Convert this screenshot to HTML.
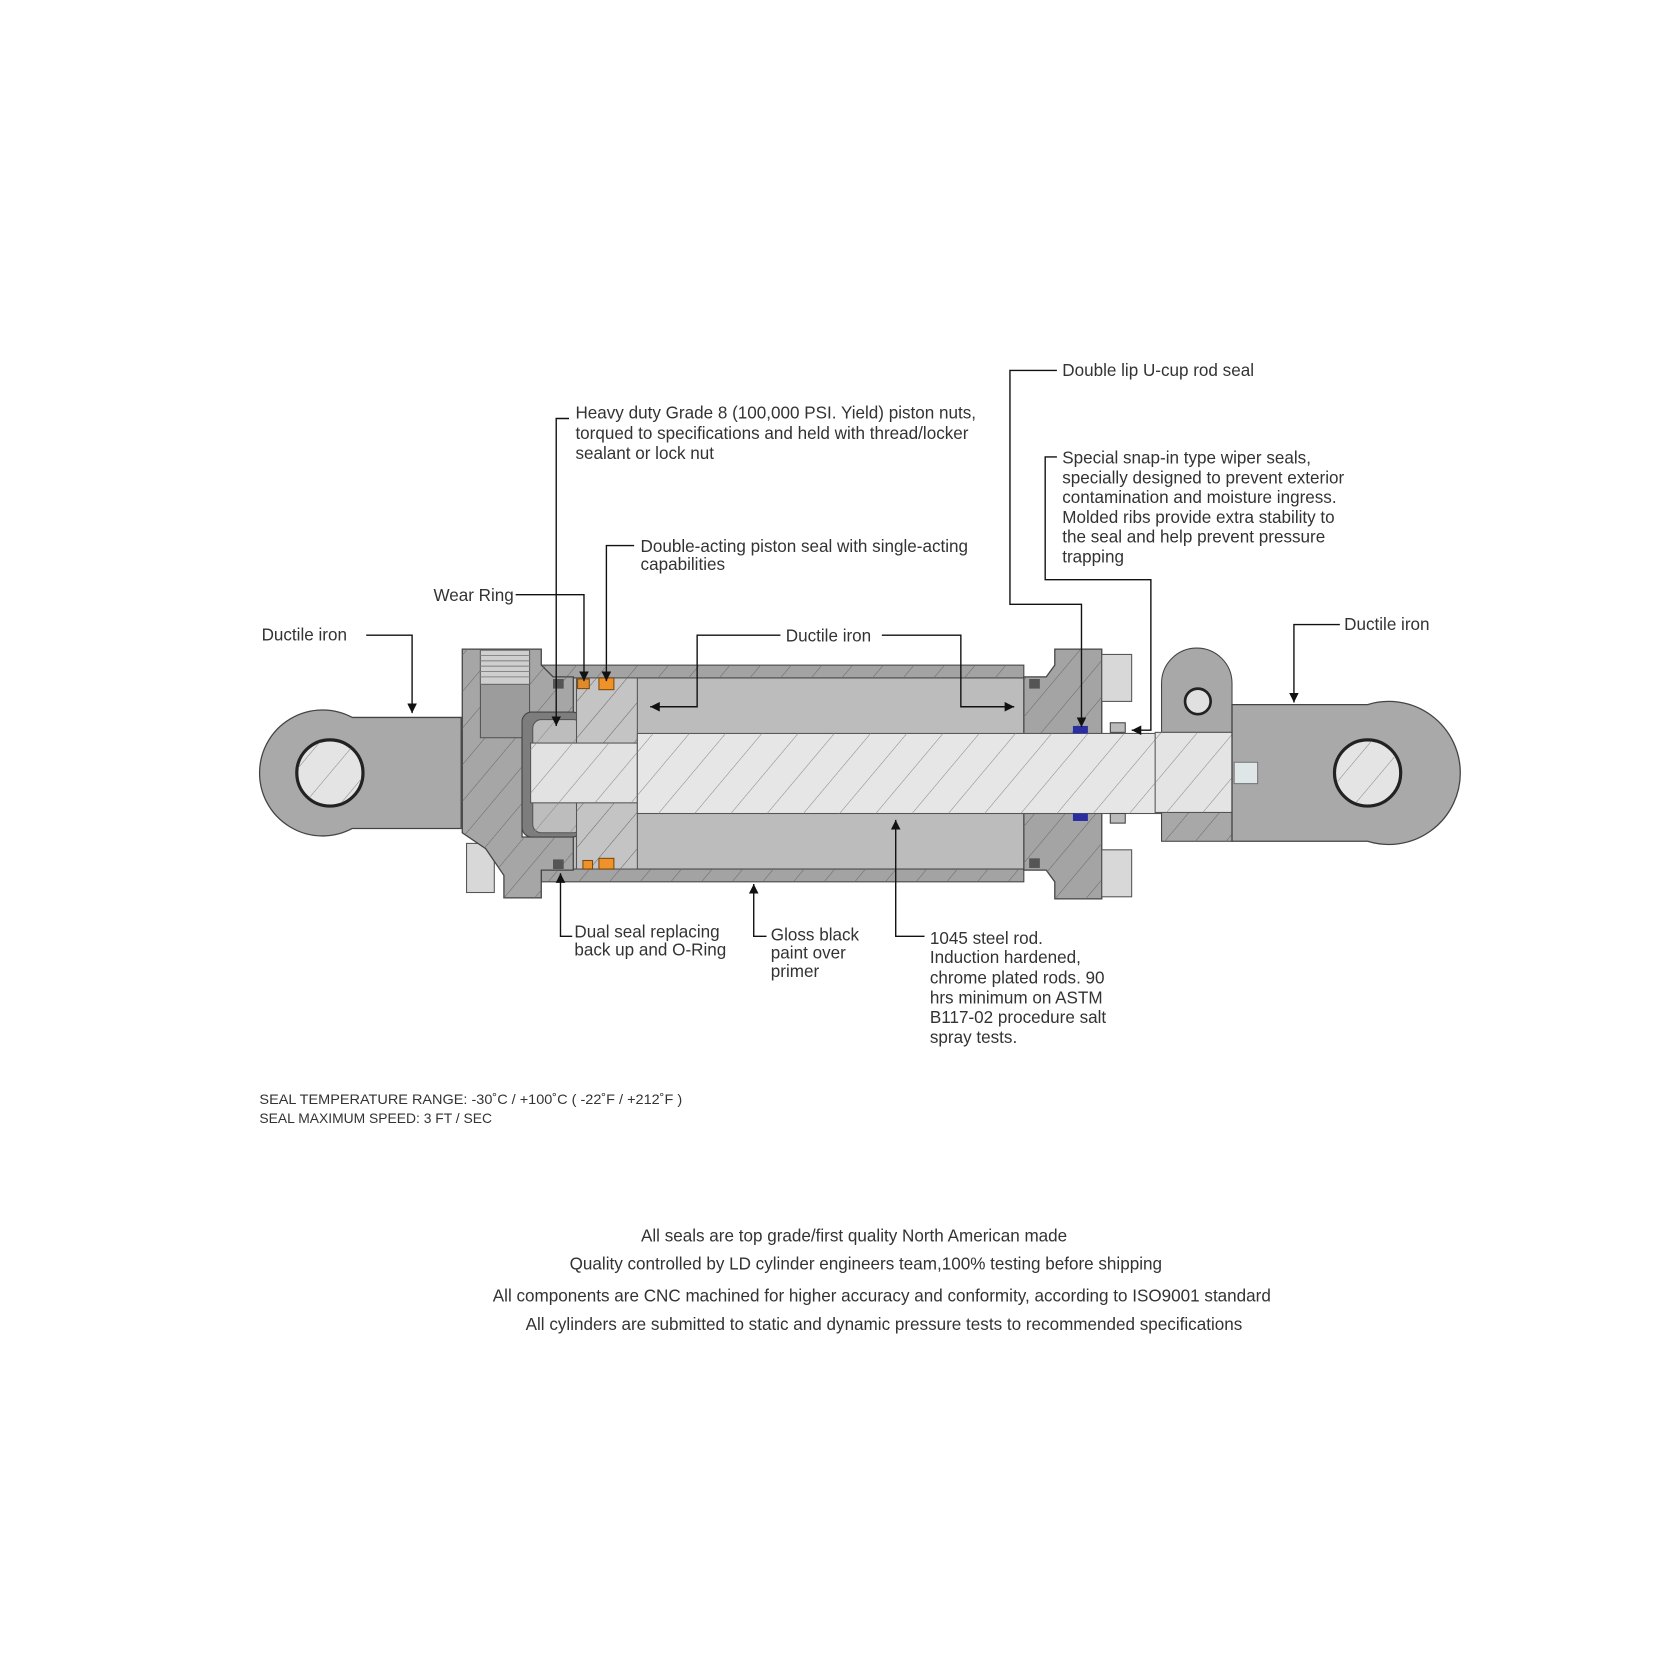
<!DOCTYPE html>
<html><head><meta charset="utf-8"><style>
html,body{margin:0;padding:0;background:#fff;}
svg{display:block;}
text{font-family:"Liberation Sans",sans-serif;fill:#333;}
</style></head><body>
<svg width="1674" height="1674" viewBox="0 0 1568 1568" xmlns="http://www.w3.org/2000/svg">
<defs>
<pattern id="h1" width="22" height="22" patternUnits="userSpaceOnUse" patternTransform="rotate(40)">
<rect width="22" height="22" fill="none"/><line x1="0" y1="0" x2="0" y2="22" stroke="#6a6a6a" stroke-width="1"/></pattern>
<pattern id="h2" width="26" height="26" patternUnits="userSpaceOnUse" patternTransform="rotate(40)">
<line x1="0" y1="0" x2="0" y2="26" stroke="#8a8a8a" stroke-width="1"/></pattern>
<marker id="ar" viewBox="0 0 10 10" refX="10" refY="5" markerWidth="9" markerHeight="9" orient="auto-start-reverse" markerUnits="userSpaceOnUse">
<path d="M0,0 L10,5 L0,10 z" fill="#111"/></marker>
</defs>
<rect width="1568" height="1568" fill="#fff"/>

<!-- Left eye -->
<path d="M330,672 L432,672 L432,776 L330,776 A59,59 0 1 1 330,672 z" fill="#a9a9a9" stroke="#444" stroke-width="1.2"/>
<circle cx="309" cy="724" r="31" fill="#e4e4e4" stroke="#222" stroke-width="3"/>
<circle cx="309" cy="724" r="30" fill="url(#h2)"/>

<!-- barrel interior -->
<rect x="507" y="634" width="452" height="181" fill="#bcbcbc"/>
<!-- barrel walls -->
<rect x="507" y="623" width="452" height="12" fill="#a3a3a3" stroke="#444"/>
<rect x="507" y="623" width="452" height="12" fill="url(#h1)"/>
<rect x="507" y="814" width="452" height="12" fill="#a3a3a3" stroke="#444"/>
<rect x="507" y="814" width="452" height="12" fill="url(#h1)"/>

<!-- left bolt -->
<rect x="437" y="790" width="26" height="46" fill="#d8d8d8" stroke="#555"/>
<!-- left cap -->
<path d="M433,608 L507,608 L507,623 L518,634 L537,634 L537,667 L489,667 L489,784 L537,784 L537,815 L507,815 L507,841 L472,841 L472,820 L455,795 L433,780 z" fill="#a6a6a6" stroke="#444" stroke-width="1.2"/>
<path d="M433,608 L507,608 L507,623 L518,634 L537,634 L537,667 L489,667 L489,784 L537,784 L537,815 L507,815 L507,841 L472,841 L472,820 L455,795 L433,780 z" fill="url(#h1)"/>
<!-- port -->
<rect x="450" y="609" width="46" height="82" fill="#9c9c9c" stroke="#555"/>
<rect x="450" y="609" width="46" height="32" fill="#cfcfcf" stroke="#666"/>
<g stroke="#888" stroke-width="1"><line x1="450" y1="614" x2="496" y2="614"/><line x1="450" y1="619" x2="496" y2="619"/><line x1="450" y1="624" x2="496" y2="624"/><line x1="450" y1="629" x2="496" y2="629"/><line x1="450" y1="634" x2="496" y2="634"/></g>
<!-- nut cavity outline -->
<rect x="489" y="667" width="56" height="117" rx="9" fill="#7d7d7d" stroke="#444"/>
<rect x="499" y="674" width="46" height="40" rx="8" fill="#bdbdbd" stroke="#555"/>
<rect x="499" y="674" width="46" height="40" fill="url(#h2)"/>
<rect x="499" y="742" width="46" height="38" rx="8" fill="#bdbdbd" stroke="#555"/>
<rect x="499" y="742" width="46" height="38" fill="url(#h2)"/>

<!-- piston -->
<rect x="540" y="635" width="57" height="179" fill="#c4c4c4" stroke="#555"/>
<rect x="540" y="635" width="57" height="179" fill="url(#h1)"/>

<!-- right gland -->
<path d="M959,634 L980,634 L988,623 L988,608 L1032,608 L1032,842 L988,842 L988,826 L980,815 L959,815 z" fill="#a4a4a4" stroke="#444" stroke-width="1.2"/>
<path d="M959,634 L980,634 L988,623 L988,608 L1032,608 L1032,842 L988,842 L988,826 L980,815 L959,815 z" fill="url(#h1)"/>
<rect x="1032" y="613" width="28" height="44" fill="#d8d8d8" stroke="#555"/>
<rect x="1032" y="796" width="28" height="44" fill="#d8d8d8" stroke="#555"/>

<!-- rod -->
<rect x="497" y="696" width="100" height="56" fill="#e2e2e2" stroke="#555"/>
<rect x="497" y="696" width="100" height="56" fill="url(#h2)"/>
<rect x="597" y="687" width="490" height="75" fill="#e6e6e6" stroke="#555"/>
<rect x="597" y="687" width="490" height="75" fill="url(#h2)"/>

<!-- right rod end -->
<path d="M1088,686 L1088,640 A33,33 0 0 1 1154,640 L1154,686 z" fill="#a8a8a8" stroke="#444"/>
<circle cx="1122" cy="657" r="12" fill="#e0e0e0" stroke="#222" stroke-width="2.5"/>
<rect x="1088" y="761" width="66" height="27" fill="#a8a8a8" stroke="#444"/>
<rect x="1088" y="761" width="66" height="27" fill="url(#h1)"/>
<rect x="1082" y="686" width="72" height="75" fill="#e4e4e4" stroke="#555"/>
<rect x="1082" y="686" width="72" height="75" fill="url(#h2)"/>
<path d="M1154,660 L1281,660 A67,67 0 1 1 1281,788 L1154,788 z" fill="#a9a9a9" stroke="#444" stroke-width="1.2"/>
<circle cx="1281" cy="724" r="31" fill="#e4e4e4" stroke="#222" stroke-width="3"/>
<circle cx="1281" cy="724" r="30" fill="url(#h2)"/>
<rect x="1156" y="714" width="22" height="20" fill="#dfe6e8" stroke="#777"/>

<!-- seals -->
<rect x="518" y="636" width="10" height="9" fill="#555"/>
<rect x="518" y="805" width="10" height="9" fill="#555"/>
<rect x="541" y="636" width="11" height="9" fill="#e08a2c" stroke="#7a4a10"/>
<rect x="561" y="635" width="14" height="11" fill="#f0922a" stroke="#7a4a10"/>
<rect x="546" y="806" width="9" height="8" fill="#f0922a" stroke="#7a4a10"/>
<rect x="561" y="804" width="14" height="10" fill="#f0922a" stroke="#7a4a10"/>
<rect x="964" y="636" width="10" height="9" fill="#555"/>
<rect x="964" y="804" width="10" height="9" fill="#555"/>
<rect x="1005" y="680" width="14" height="7" fill="#2a2ea0"/>
<rect x="1005" y="762" width="14" height="7" fill="#2a2ea0"/>
<rect x="1040" y="677" width="14" height="9" fill="#bbb" stroke="#444"/>
<rect x="1040" y="762" width="14" height="9" fill="#bbb" stroke="#444"/>

<!-- leaders -->
<g fill="none" stroke="#111" stroke-width="1.3">
<path d="M343,595 L386,595 L386,668" marker-end="url(#ar)"/>
<path d="M483,557 L547,557 L547,638" marker-end="url(#ar)"/>
<path d="M533,392 L521,392 L521,680" marker-end="url(#ar)"/>
<path d="M594,511 L568,511 L568,638" marker-end="url(#ar)"/>
<path d="M731,595 L653,595 L653,662 L609,662" marker-end="url(#ar)"/>
<path d="M826,595 L900,595 L900,662 L950,662" marker-end="url(#ar)"/>
<path d="M990,347 L946,347 L946,566 L1013,566 L1013,681" marker-end="url(#ar)"/>
<path d="M990,428 L979,428 L979,543 L1078,543 L1078,684 L1060,684" marker-end="url(#ar)"/>
<path d="M1255,585 L1212,585 L1212,658" marker-end="url(#ar)"/>
<path d="M536,877 L525,877 L525,818" marker-end="url(#ar)"/>
<path d="M718,877 L706,877 L706,828" marker-end="url(#ar)"/>
<path d="M866,877 L839,877 L839,768" marker-end="url(#ar)"/>
</g>

<!-- labels -->
<g font-size="16">
<text x="245" y="600">Ductile iron</text>
<text x="406" y="563">Wear Ring</text>
<text x="539" y="392">Heavy duty Grade 8 (100,000 PSI. Yield) piston nuts,</text>
<text x="539" y="411">torqued to specifications and held with thread/locker</text>
<text x="539" y="430">sealant or lock nut</text>
<text x="600" y="517">Double-acting piston seal with single-acting</text>
<text x="600" y="534">capabilities</text>
<text x="736" y="601">Ductile iron</text>
<text x="995" y="352">Double lip U-cup rod seal</text>
<text x="995" y="434">Special snap-in type wiper seals,</text>
<text x="995" y="453">specially designed to prevent exterior</text>
<text x="995" y="471">contamination and moisture ingress.</text>
<text x="995" y="490">Molded ribs provide extra stability to</text>
<text x="995" y="508">the seal and help prevent pressure</text>
<text x="995" y="527">trapping</text>
<text x="1259" y="590">Ductile iron</text>
<text x="538" y="878">Dual seal replacing</text>
<text x="538" y="895">back up and O-Ring</text>
<text x="722" y="881">Gloss black</text>
<text x="722" y="898">paint over</text>
<text x="722" y="915">primer</text>
<text x="871" y="884">1045 steel rod.</text>
<text x="871" y="902">Induction hardened,</text>
<text x="871" y="921">chrome plated rods. 90</text>
<text x="871" y="940">hrs minimum on ASTM</text>
<text x="871" y="958">B117-02 procedure salt</text>
<text x="871" y="977">spray tests.</text>
</g>
<g font-size="13">
<text x="243" y="1034" textLength="396" lengthAdjust="spacingAndGlyphs">SEAL TEMPERATURE RANGE: -30˚C / +100˚C ( -22˚F / +212˚F )</text>
<text x="243" y="1052">SEAL MAXIMUM SPEED: 3 FT / SEC</text>
</g>
<g font-size="16" text-anchor="middle">
<text x="800" y="1163">All seals are top grade/first quality North American made</text>
<text x="811" y="1189">Quality controlled by LD cylinder engineers team,100% testing before shipping</text>
<text x="826" y="1219">All components are CNC machined for higher accuracy and conformity, according to ISO9001 standard</text>
<text x="828" y="1246">All cylinders are submitted to static and dynamic pressure tests  to recommended specifications</text>
</g>
</svg>
</body></html>
